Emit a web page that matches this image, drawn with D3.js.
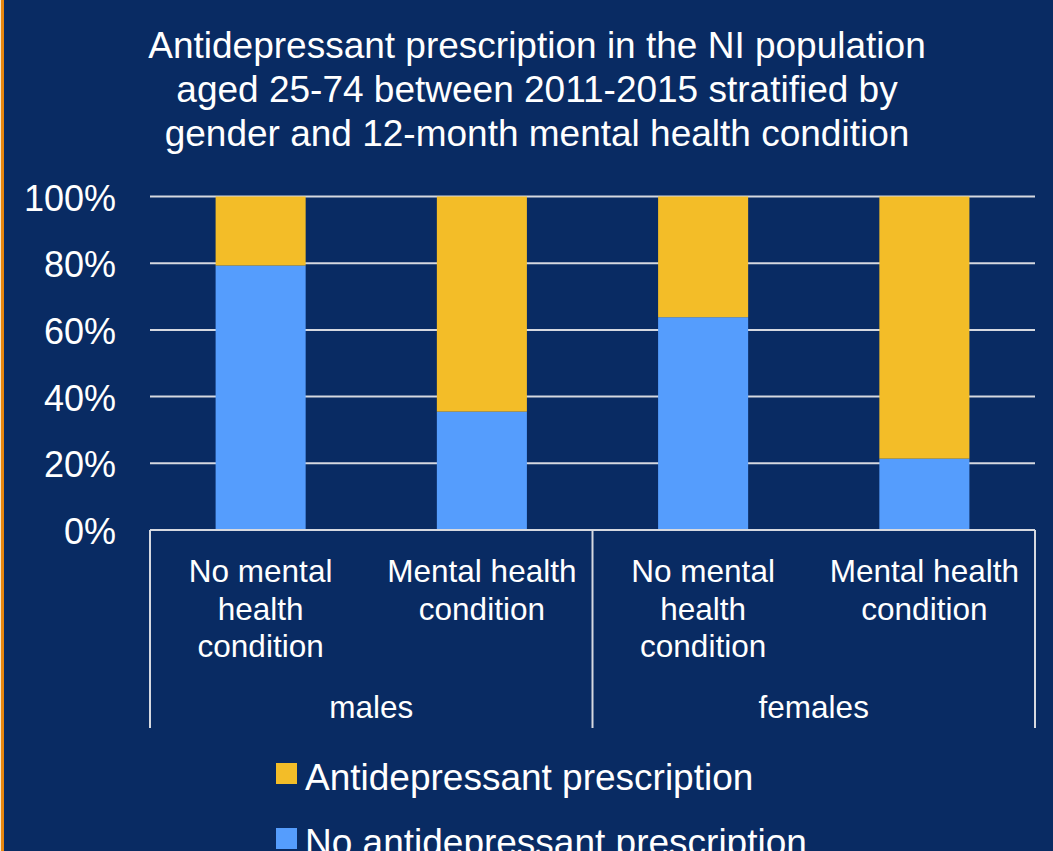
<!DOCTYPE html>
<html>
<head>
<meta charset="utf-8">
<script src="https://cdn.jsdelivr.net/npm/d3@7"></script>
<style>
html,body{margin:0;padding:0;background:#092b63;}
svg{display:block;}
text{font-family:"Liberation Sans",Arial,sans-serif;fill:#ffffff;}
</style>
</head>
<body>
<svg id="chart" width="1053" height="851"></svg>
<script>
// ---- data ----
const titleLines = [
  "Antidepressant prescription in the NI population",
  "aged 25-74 between 2011-2015 stratified by",
  "gender and 12-month mental health condition"
];
const categories = ["m_no", "m_yes", "f_no", "f_yes"];
const categoryLabels = [
  ["No mental", "health", "condition"],
  ["Mental health", "condition"],
  ["No mental", "health", "condition"],
  ["Mental health", "condition"]
];
const groups = ["males", "females"];
const seriesNames = ["No antidepressant prescription", "Antidepressant prescription"];
const noAntidepressant = [79.3, 35.5, 63.8, 21.4];
const antidepressant = [20.7, 64.5, 36.2, 78.6];
const yTicks = [0, 20, 40, 60, 80, 100];
const legendOrder = ["Antidepressant prescription", "No antidepressant prescription"];

// ---- setup ----
const W = 1053, H = 851;
const svg = d3.select("#chart");
const colors = {
  "No antidepressant prescription": "#559dfd",
  "Antidepressant prescription": "#f3bd28"
};

svg.append("rect").attr("x", 0).attr("y", 0).attr("width", W).attr("height", H).attr("fill", "#092b63");
svg.append("rect").attr("x", 0).attr("y", 0).attr("width", 1).attr("height", H).attr("fill", "#f5e6cc");
svg.append("rect").attr("x", 1).attr("y", 0).attr("width", 3).attr("height", H).attr("fill", "#e8870f");

const pLeft = 150, pRight = 1035, pTop = 196.5, pBottom = 530;

const x = d3.scaleBand().domain(categories).range([pLeft, pRight]).paddingInner(0.593).paddingOuter(0.2965);
const y = d3.scaleLinear().domain([0, 100]).range([pBottom, pTop]);

// title
svg.append("g").selectAll("text").data(titleLines).join("text")
  .attr("x", 537).attr("y", (d, i) => 58 + i * 44)
  .attr("text-anchor", "middle").attr("font-size", 37).text(d => d);

// gridlines
svg.append("g").selectAll("line").data(yTicks).join("line")
  .attr("x1", pLeft).attr("x2", pRight)
  .attr("y1", d => y(d)).attr("y2", d => y(d))
  .attr("stroke", "#d6d9e0").attr("stroke-width", 2);

// y tick labels
svg.append("g").selectAll("text").data(yTicks).join("text")
  .attr("x", 116).attr("y", d => y(d) + 14)
  .attr("text-anchor", "end").attr("font-size", 36)
  .text(d => d + "%");

// stacked bars
const rows = categories.map((c, i) => ({
  cat: c,
  "No antidepressant prescription": noAntidepressant[i],
  "Antidepressant prescription": antidepressant[i]
}));
const stacked = d3.stack().keys(seriesNames)(rows);
svg.append("g").selectAll("g").data(stacked).join("g")
  .attr("fill", d => colors[d.key])
  .selectAll("rect").data(d => d).join("rect")
  .attr("x", d => x(d.data.cat))
  .attr("width", x.bandwidth())
  .attr("y", d => y(d[1]))
  .attr("height", d => y(d[0]) - y(d[1]));

// multi-level axis
const axisG = svg.append("g").attr("stroke", "#d6d9e0").attr("stroke-width", 2);
axisG.append("line").attr("x1", pLeft).attr("x2", pRight).attr("y1", pBottom).attr("y2", pBottom);
const groupBounds = [pLeft, (pLeft + pRight) / 2, pRight];
axisG.selectAll("line.v").data(groupBounds).join("line").attr("class", "v")
  .attr("x1", d => d).attr("x2", d => d).attr("y1", pBottom).attr("y2", 728);

// category labels
const catG = svg.append("g");
categories.forEach((c, i) => {
  const cx = x(c) + x.bandwidth() / 2;
  catG.append("g").selectAll("text").data(categoryLabels[i]).join("text")
    .attr("x", cx).attr("y", (d, j) => 582 + j * 37.5)
    .attr("text-anchor", "middle").attr("font-size", 31.5).text(d => d);
});

// group labels
svg.append("g").selectAll("text").data(groups).join("text")
  .attr("x", (d, i) => (groupBounds[i] + groupBounds[i + 1]) / 2)
  .attr("y", 718).attr("text-anchor", "middle").attr("font-size", 31.5).text(d => d);

// legend
const lg = svg.append("g").selectAll("g").data(legendOrder).join("g")
  .attr("transform", (d, i) => `translate(276, ${763 + i * 65})`);
lg.append("rect").attr("width", 21).attr("height", 21).attr("fill", d => colors[d]);
lg.append("text").attr("x", 29).attr("y", 27).attr("font-size", 37).text(d => d);
</script>
</body>
</html>
